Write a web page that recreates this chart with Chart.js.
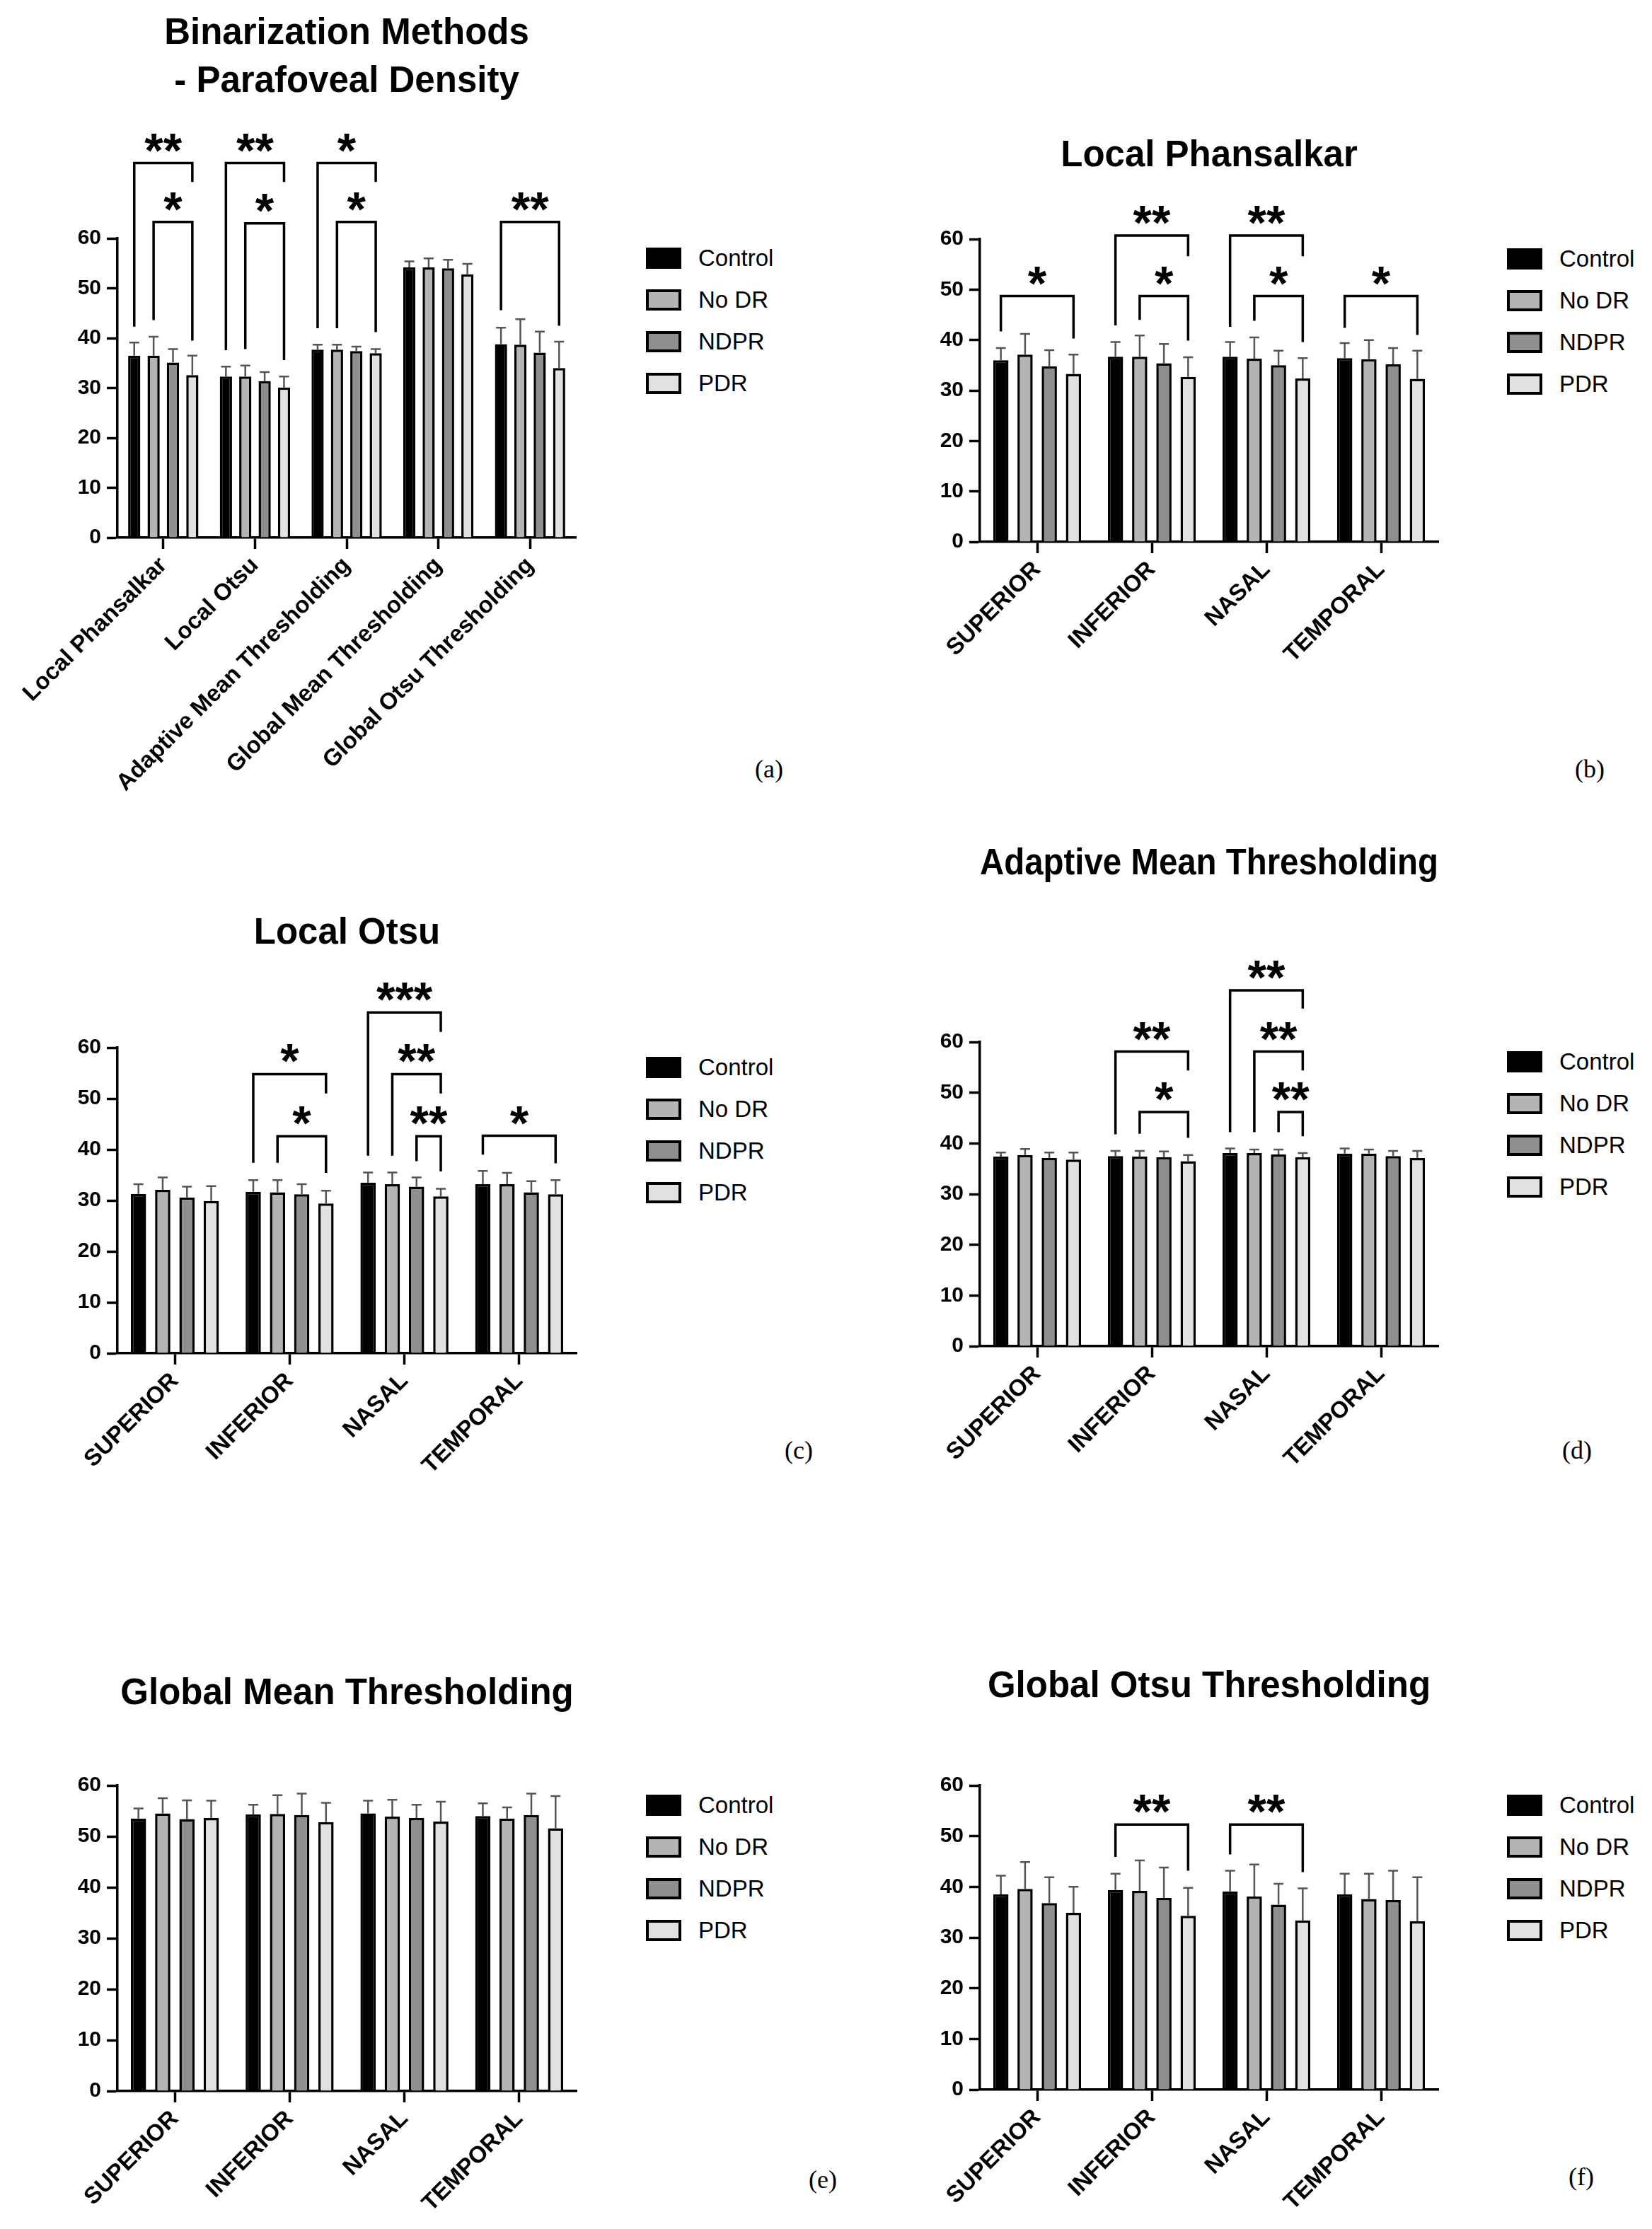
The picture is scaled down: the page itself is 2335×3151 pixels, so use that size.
<!DOCTYPE html>
<html>
<head>
<meta charset="utf-8">
<title>Binarization Methods - Parafoveal Density</title>
<script src="https://cdn.jsdelivr.net/npm/chart.js@4.4.1/dist/chart.umd.min.js"></script>
<style>
  body { margin: 0; background: #fff; width: 2335px; height: 3151px; position: relative; overflow: hidden; }
  .panel { position: absolute; }
  .legend { position: absolute; font: 33px "Liberation Sans", Arial, sans-serif; color: #000; }
  .legend .row { height: 59px; display: flex; align-items: center; white-space: nowrap; }
  .legend .box { width: 50px; height: 30px; box-sizing: border-box; border: 4px solid #000; margin-right: 24px; }
  .tag { position: absolute; font: 36px "Liberation Serif", "Times New Roman", serif; color: #000; transform: translate(-50%, -50%); }
</style>
</head>
<body>
<script>
/* ------------------------------------------------------------
   Data
------------------------------------------------------------ */
const groupNames = ["Control", "No DR", "NDPR", "PDR"];
const methodNames = ["Local Phansalkar", "Local Otsu", "Adaptive Mean Thresholding", "Global Mean Thresholding", "Global Otsu Thresholding"];
const regionNames = ["SUPERIOR", "INFERIOR", "NASAL", "TEMPORAL"];
const yTickValues = [0, 10, 20, 30, 40, 50, 60];

// rows = groups (Control, No DR, NDPR, PDR), columns = categories
const parafovealMean = [
    [36.5, 32.3, 37.7, 54.2, 38.8],
    [36.5, 32.3, 37.7, 54.2, 38.7],
    [35.1, 31.4, 37.4, 54.0, 37.1],
    [32.6, 30.1, 37.0, 52.8, 34.0]
];
const parafovealSd = [
    [2.6, 2.0, 1.0, 1.2, 3.3],
    [3.8, 2.2, 1.0, 1.8, 5.1],
    [2.7, 1.8, 0.9, 1.7, 4.2],
    [3.9, 2.2, 0.8, 2.1, 5.3]
];

const phansalkarMean = [
    [36.0, 36.7, 36.7, 36.4],
    [37.1, 36.7, 36.3, 36.2],
    [34.8, 35.4, 35.0, 35.2],
    [33.3, 32.7, 32.4, 32.3]
];
const phansalkarSd = [
    [2.4, 2.9, 2.9, 3.0],
    [4.1, 4.2, 4.2, 3.8],
    [3.2, 3.8, 2.9, 3.2],
    [3.8, 3.9, 4.0, 5.6]
];

const localOtsuMean = [
    [31.3, 31.7, 33.5, 33.2],
    [32.1, 31.6, 33.2, 33.2],
    [30.6, 31.2, 32.7, 31.6],
    [29.9, 29.4, 30.8, 31.2]
];
const localOtsuSd = [
    [1.9, 2.3, 2.0, 2.6],
    [2.4, 2.4, 2.3, 2.2],
    [2.1, 2.0, 1.8, 2.2],
    [2.9, 2.5, 1.5, 2.8]
];

const adaptiveMean = [
    [37.4, 37.5, 38.1, 38.0],
    [37.7, 37.4, 38.1, 38.0],
    [37.1, 37.3, 37.8, 37.5],
    [36.8, 36.5, 37.3, 37.1]
];
const adaptiveSd = [
    [0.8, 1.0, 0.9, 1.0],
    [1.2, 1.1, 0.7, 0.8],
    [1.1, 1.1, 1.0, 1.0],
    [1.4, 1.2, 0.8, 1.4]
];

const globalMeanMean = [
    [53.5, 54.3, 54.5, 54.0],
    [54.5, 54.4, 53.9, 53.5],
    [53.4, 54.2, 53.6, 54.2],
    [53.6, 52.8, 52.9, 51.6]
];
const globalMeanSd = [
    [2.0, 1.9, 2.5, 2.5],
    [3.0, 3.7, 3.3, 2.2],
    [3.7, 4.2, 2.6, 4.2],
    [3.4, 3.8, 3.9, 6.3]
];

const globalOtsuMean = [
    [38.5, 39.4, 39.1, 38.5],
    [39.6, 39.2, 38.1, 37.6],
    [36.8, 37.8, 36.5, 37.4],
    [34.9, 34.3, 33.4, 33.2]
];
const globalOtsuSd = [
    [3.7, 3.2, 4.1, 4.1],
    [5.3, 6.0, 6.3, 5.0],
    [5.1, 6.0, 4.1, 5.8],
    [5.1, 5.5, 6.3, 8.7]
];

// significance brackets: [category, from group, to group, top value, left leg end, right leg end, label]
const parafovealSig = [
    [0, 0, 3, 75.1, 42.3, 71.3, "**"], [0, 1, 3, 63.3, 43.6, 39.5, "*"],
    [1, 0, 3, 75.1, 37.6, 71.3, "**"], [1, 1, 3, 63.0, 37.8, 35.6, "*"],
    [2, 0, 3, 75.1, 42.0, 71.3, "*"], [2, 1, 3, 63.3, 42.0, 41.2, "*"],
    [4, 0, 3, 63.3, 45.6, 42.5, "**"]
];
const phansalkarSig = [
    [0, 0, 3, 48.7, 41.7, 40.3, "*"],
    [1, 0, 3, 60.7, 42.9, 56.6, "**"], [1, 1, 3, 48.7, 44.0, 39.9, "*"],
    [2, 0, 3, 60.7, 42.6, 56.6, "**"], [2, 1, 3, 48.7, 43.8, 39.6, "*"],
    [3, 0, 3, 48.7, 42.4, 41.0, "*"]
];
const localOtsuSig = [
    [1, 0, 3, 54.8, 37.4, 51.0, "*"], [1, 1, 3, 42.6, 37.4, 35.4, "*"],
    [2, 0, 3, 66.9, 38.8, 63.1, "***"], [2, 1, 3, 54.8, 38.8, 51.0, "**"], [2, 2, 3, 42.6, 37.7, 35.7, "**"],
    [3, 0, 3, 42.7, 39.0, 37.3, "*"]
];
const adaptiveSig = [
    [1, 0, 3, 58.1, 41.8, 54.4, "**"], [1, 1, 3, 46.2, 41.9, 41.1, "*"],
    [2, 0, 3, 70.2, 42.2, 66.6, "**"], [2, 1, 3, 58.1, 42.2, 54.4, "**"], [2, 2, 3, 46.2, 42.2, 41.4, "**"]
];
const globalMeanSig = [];
const globalOtsuSig = [
    [1, 0, 3, 52.3, 45.9, 43.2, "**"],
    [2, 0, 3, 52.3, 46.4, 42.9, "**"]
];

/* ------------------------------------------------------------
   Styling / page layout
------------------------------------------------------------ */
const FONT = "'Liberation Sans', Arial, Helvetica, sans-serif";
const fills = ["#000000", "#b4b4b4", "#8f8f8f", "#e1e1e1"];
const Y_AXIS_W = 70;

// page positions of each panel (px)
const panels = [
    {tag: "(a)", left: 0,    top: 0,    width: 880, height: 1160, axisX: 166,  y60: 337,  y0: 760,  xEnd: 814,  titleY: 48,   lh: 68, legendX: 913,  tagX: 1087, tagY: 1087},
    {tag: "(b)", left: 1170, top: 150,  width: 900, height: 850,  axisX: 1385, y60: 338,  y0: 766,  xEnd: 2033, titleY: 221,  lh: 61, legendX: 2130, tagX: 2247, tagY: 1087},
    {tag: "(c)", left: 0,    top: 1240, width: 880, height: 870,  axisX: 166,  y60: 1481, y0: 1913, xEnd: 815,  titleY: 1320, lh: 61, legendX: 913,  tagX: 1129, tagY: 2050},
    {tag: "(d)", left: 1170, top: 1150, width: 900, height: 960,  axisX: 1385, y60: 1473, y0: 1903, xEnd: 2033, titleY: 1222, lh: 61, legendX: 2130, tagX: 2229, tagY: 2050},
    {tag: "(e)", left: 0,    top: 2320, width: 880, height: 820,  axisX: 166,  y60: 2524, y0: 2956, xEnd: 815,  titleY: 2395, lh: 61, legendX: 913,  tagX: 1163, tagY: 3081},
    {tag: "(f)", left: 1170, top: 2310, width: 900, height: 830,  axisX: 1385, y60: 2524, y0: 2954, xEnd: 2033, titleY: 2385, lh: 61, legendX: 2130, tagX: 2235, tagY: 3077}
];

/*--------------------------------------------------------------------
Plugins
--------------------------------------------------------------------*/
// error bars (mean + SD) and significance brackets, placed through the y scale
function marksPlugin(sds, brackets) {
    return {
        id: "marks",
        afterDatasetsDraw(chart) {
            const ctx = chart.ctx;
            const y = chart.scales.y;
            ctx.save();

            ctx.strokeStyle = "#555";
            ctx.lineWidth = 2.5;
            sds.forEach((row, di) => {
                const bars = chart.getDatasetMeta(di).data;
                const means = chart.data.datasets[di].data;
                row.forEach((sd, i) => {
                    const bar = bars[i];
                    const top = y.getPixelForValue(means[i] + sd);
                    ctx.beginPath();
                    ctx.moveTo(bar.x, bar.y);
                    ctx.lineTo(bar.x, top);
                    ctx.moveTo(bar.x - 7, top);
                    ctx.lineTo(bar.x + 7, top);
                    ctx.stroke();
                });
            });

            ctx.strokeStyle = "#000";
            ctx.fillStyle = "#000";
            ctx.lineWidth = 3.5;
            ctx.lineJoin = "miter";
            ctx.lineCap = "butt";
            ctx.font = "bold 68px " + FONT;
            ctx.textAlign = "center";
            ctx.textBaseline = "alphabetic";
            brackets.forEach(([cat, from, to, top, leftEnd, rightEnd, label]) => {
                const x1 = chart.getDatasetMeta(from).data[cat].x;
                const x2 = chart.getDatasetMeta(to).data[cat].x;
                const yt = y.getPixelForValue(top);
                ctx.beginPath();
                ctx.moveTo(x1, y.getPixelForValue(leftEnd));
                ctx.lineTo(x1, yt);
                ctx.lineTo(x2, yt);
                ctx.lineTo(x2, y.getPixelForValue(rightEnd));
                ctx.stroke();
                ctx.fillText(label, (x1 + x2) / 2, yt + 5);
            });

            ctx.restore();
        }
    };
}

// html legend built from the chart's own legend items
function htmlLegend(container) {
    return {
        id: "htmlLegend",
        afterUpdate(chart) {
            container.innerHTML = "";
            const items = chart.options.plugins.legend.labels.generateLabels(chart);
            items.forEach(item => {
                const row = document.createElement("div");
                row.className = "row";
                const box = document.createElement("span");
                box.className = "box";
                box.style.background = item.fillStyle;
                box.style.borderColor = item.strokeStyle;
                const text = document.createElement("span");
                text.textContent = item.text;
                row.appendChild(box);
                row.appendChild(text);
                container.appendChild(row);
            });
        }
    };
}

/*--------------------------------------------------------------------
Chart builder
--------------------------------------------------------------------*/
function makeChart(p, title, categories, means, sds, brackets) {
    const wrap = document.createElement("div");
    wrap.className = "panel";
    wrap.style.left = p.left + "px";
    wrap.style.top = p.top + "px";
    const canvas = document.createElement("canvas");
    canvas.width = p.width;
    canvas.height = p.height;
    wrap.appendChild(canvas);
    document.body.appendChild(wrap);

    const legend = document.createElement("div");
    legend.className = "legend";
    legend.style.left = p.legendX + "px";
    legend.style.top = (p.y60 + 28 - 29.5) + "px";
    document.body.appendChild(legend);

    const tag = document.createElement("div");
    tag.className = "tag";
    tag.textContent = p.tag;
    tag.style.left = p.tagX + "px";
    tag.style.top = p.tagY + "px";
    document.body.appendChild(tag);

    const lines = Array.isArray(title) ? title.length : 1;
    const titleTop = p.titleY - p.top - p.lh / 2;
    const titleBottom = (p.y60 - p.top) - titleTop - lines * p.lh;
    const padBottom = 4;
    const xAxisH = p.height - (p.y0 - p.top) - padBottom;

    return new Chart(canvas, {
        type: "bar",
        data: {
            labels: categories,
            datasets: groupNames.map((name, i) => ({
                label: name,
                data: means[i],
                backgroundColor: fills[i],
                borderColor: "#000",
                borderWidth: 3.5,
                categoryPercentage: 0.845,
                barPercentage: 0.63
            }))
        },
        options: {
            responsive: false,
            animation: false,
            devicePixelRatio: 1,
            layout: {
                padding: {
                    left: p.axisX - p.left - Y_AXIS_W,
                    right: p.width - (p.xEnd - p.left),
                    top: 0,
                    bottom: padBottom
                }
            },
            plugins: {
                legend: {display: false},
                tooltip: {enabled: false},
                title: {
                    display: true,
                    text: title,
                    fullSize: false,
                    color: "#000",
                    font: {family: FONT, size: 51, weight: "bold", lineHeight: p.lh + "px"},
                    padding: {top: titleTop, bottom: titleBottom}
                }
            },
            scales: {
                x: {
                    grid: {offset: false, drawOnChartArea: false, drawTicks: true, tickLength: 16, tickWidth: 3.5, tickColor: "#000"},
                    border: {color: "#000", width: 3.5},
                    ticks: {color: "#000", font: {family: FONT, size: 33, weight: "bold"}, maxRotation: 45, minRotation: 45, autoSkip: false, padding: 4},
                    afterFit: s => { s.height = xAxisH; }
                },
                y: {
                    min: 0,
                    max: 60,
                    afterBuildTicks: s => { s.ticks = yTickValues.map(v => ({value: v})); },
                    ticks: {color: "#000", font: {family: FONT, size: 30, weight: "bold"}, padding: 8},
                    grid: {drawOnChartArea: false, drawTicks: true, tickLength: 15, tickWidth: 3.5, tickColor: "#000"},
                    border: {color: "#000", width: 3.5},
                    afterFit: s => { s.width = Y_AXIS_W; }
                }
            }
        },
        plugins: [marksPlugin(sds, brackets), htmlLegend(legend)]
    });
}

makeChart(panels[0], ["Binarization Methods", "- Parafoveal Density"], methodNames, parafovealMean, parafovealSd, parafovealSig);
makeChart(panels[1], "Local Phansalkar", regionNames, phansalkarMean, phansalkarSd, phansalkarSig);
makeChart(panels[2], "Local Otsu", regionNames, localOtsuMean, localOtsuSd, localOtsuSig);
makeChart(panels[3], "Adaptive Mean Thresholding", regionNames, adaptiveMean, adaptiveSd, adaptiveSig);
makeChart(panels[4], "Global Mean Thresholding", regionNames, globalMeanMean, globalMeanSd, globalMeanSig);
makeChart(panels[5], "Global Otsu Thresholding", regionNames, globalOtsuMean, globalOtsuSd, globalOtsuSig);
</script>
</body>
</html>
